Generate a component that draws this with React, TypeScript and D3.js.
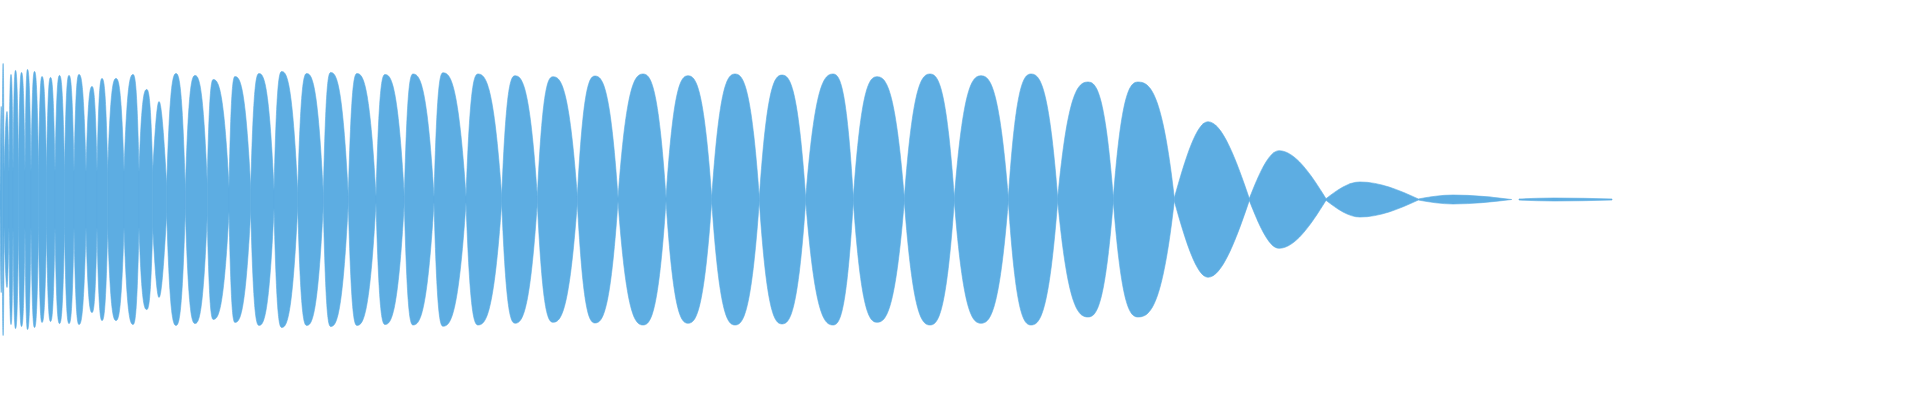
import React from "react";
import * as d3 from "d3";

// Zero-crossing boundaries of each lobe of the waveform envelope (time axis, px-frame units)
const bounds = [
  0, 2.2, 4, 9, 13, 18.5, 25, 31, 38.5, 46.5,
  55, 64.5, 74, 86, 97, 107.7, 124, 139, 152.7, 166.7,
  185.3, 207.2, 229, 250.7, 274, 297.7, 323.3, 348.3, 376, 404.3,
  434, 466, 501.7, 537.3, 577.3, 618, 666, 711.7, 759.3, 805.7,
  853.3, 904.3, 954.3, 1008.3, 1057.7, 1113.3, 1174.3, 1249.3, 1326, 1418.3,
  1511.7, 1519, 1612,
];

// Residual amplitude at each boundary (normalized)
const floors = [
  0.037, 0.206,
  0.206, 0.206, 0.206, 0.206, 0.206, 0.206, 0.206, 0.206, 0.206,
  0.206, 0.206, 0.206, 0.206, 0.206, 0.206, 0.206, 0.206,
  0.103, 0.066, 0.118, 0.088, 0.081, 0.066, 0.051, 0.037,
  0.022, 0.022, 0.022, 0.022, 0.022, 0.022, 0.022, 0.022,
  0.011, 0.011, 0.011, 0.011, 0.011, 0.011, 0.011, 0.011, 0.011, 0.011, 0.011, 0.011,
  0.007, 0.006, 0.004, 0, 0.004, 0.004,
];

// Position of each lobe's peak
const peakTimes = [
  1.2, 3.1, 7, 11, 15.5, 21.5, 27.5, 34.5, 42, 50.5,
  59.5, 69, 79, 92, 102, 116, 133, 146.7, 159, 176,
  195, 213.3, 235, 259, 281.7, 306.7, 330.7, 357, 385, 413,
  443, 478, 515, 553, 595, 643, 688, 735, 782, 833,
  877, 930, 981, 1031, 1088, 1138, 1208, 1279, 1360, 1453,
  1515, 1554,
];

// Peak amplitude of each lobe (normalized, 1 = full scale)
const peakAmps = [
  0.684, 1.0, 0.647, 0.919, 0.949, 0.934, 0.956, 0.941, 0.904, 0.897,
  0.912, 0.912, 0.919, 0.831, 0.89, 0.89, 0.919, 0.809, 0.721, 0.926,
  0.912, 0.882, 0.904, 0.926, 0.941, 0.926, 0.934, 0.926, 0.919, 0.923,
  0.932, 0.923, 0.91, 0.903, 0.908, 0.923, 0.91, 0.923, 0.915, 0.923,
  0.903, 0.923, 0.91, 0.923, 0.864, 0.864, 0.572, 0.359, 0.129, 0.033,
  0, 0.011,
];

const WIDTH = 1920;
const HEIGHT = 400;
const COLOR = "#5dade2";

// Lobe shape: loud lobes are flattened (broad tops), quiet ones are sine-like
const HANDLE = 1 / 3;
const RISE_LOUD = 0.92;
const RISE_QUIET = 0.53;
const LOUD_LEVEL = 0.75;

export default function App() {
  const x = d3.scaleLinear().domain([0, 1920]).range([0, WIDTH]);
  const y = d3.scaleLinear().domain([-1, 1]).range([335.5, 63.5]);

  // quarter-lobe from a crossing (xa, ya) to a peak (xb, yb)
  const toPeak = (p: d3.Path, r: number, xa: number, ya: number, xb: number, yb: number) => {
    p.bezierCurveTo(
      xa + HANDLE * (xb - xa),
      ya + r * (yb - ya),
      xb - HANDLE * (xb - xa),
      yb,
      xb,
      yb
    );
  };
  // quarter-lobe from a peak (xa, ya) down to a crossing (xb, yb)
  const fromPeak = (p: d3.Path, r: number, xa: number, ya: number, xb: number, yb: number) => {
    p.bezierCurveTo(
      xa + HANDLE * (xb - xa),
      ya,
      xb - HANDLE * (xb - xa),
      yb + r * (ya - yb),
      xb,
      yb
    );
  };

  const lobes = peakTimes.map((pt, i) => {
    if (peakAmps[i] <= 0) return { key: i, d: null as string | null };
    const x0 = x(bounds[i]);
    const x1 = x(bounds[i + 1]);
    const xp = x(pt);
    const f0 = floors[i];
    const f1 = floors[i + 1];
    const a = peakAmps[i];
    const r = a >= LOUD_LEVEL ? RISE_LOUD : RISE_QUIET;
    const p = d3.path();
    p.moveTo(x0, y(f0));
    toPeak(p, r, x0, y(f0), xp, y(a));
    fromPeak(p, r, xp, y(a), x1, y(f1));
    p.lineTo(x1, y(-f1));
    toPeak(p, r, x1, y(-f1), xp, y(-a));
    fromPeak(p, r, xp, y(-a), x0, y(-f0));
    p.closePath();
    return { key: i, d: p.toString() };
  });

  return (
    <svg
      width={WIDTH}
      height={HEIGHT}
      style={{ position: "absolute", left: 0, top: 0, display: "block" }}
    >
      <rect width={WIDTH} height={HEIGHT} fill="#ffffff" />
      <g>
        {lobes.map((l) =>
          l.d ? (
            <path
              key={l.key}
              d={l.d}
              fill={COLOR}
              stroke={COLOR}
              strokeWidth={0.6}
              strokeLinejoin="round"
            />
          ) : null
        )}
      </g>
    </svg>
  );
}
